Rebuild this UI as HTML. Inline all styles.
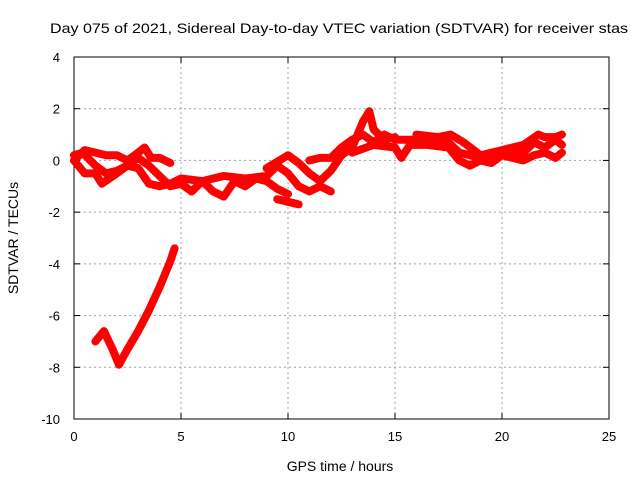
<!DOCTYPE html>
<html><head><meta charset="utf-8"><style>
body{margin:0;background:#fff}
svg{display:block;font-family:"Liberation Sans",sans-serif;font-size:13px}
</style></head><body>
<svg id="chart" width="640" height="480">
<text x="50" y="33" textLength="578" lengthAdjust="spacingAndGlyphs" style="font-size:14px">Day 075 of 2021, Sidereal Day-to-day VTEC variation (SDTVAR) for receiver stas</text>
<g id="grid"></g><g id="axes"></g><g id="series"></g>
<text x="340" y="471" text-anchor="middle" style="font-size:14px">GPS time / hours</text>
<text transform="translate(18,238) rotate(-90)" text-anchor="middle" style="font-size:14px">SDTVAR / TECUs</text>
</svg>
<script>
const xTicks=[0,5,10,15,20,25];
const yTicks=[4,2,0,-2,-4,-6,-8,-10];
const trackA=[[0,0],[0.5,0.4],[1,0.3],[1.5,0.2],[2,0.2],[2.5,0],[3,0.3],[3.3,0.5],[3.6,0.1],[4,0.1],[4.5,-0.1]];
const trackB=[[0,0],[0.5,-0.5],[1,-0.5],[1.3,-0.9],[2,-0.5],[2.5,-0.2],[3,0.1],[3.5,-0.2],[4,-0.6],[4.5,-1],[5,-0.9],[5.5,-1.2],[6,-0.8],[6.5,-1.2],[7,-1.4],[7.5,-0.8],[8,-1.0],[8.5,-0.7],[9,-0.8],[9.5,-1.1],[10,-1.3]];
const trackC=[[0,0.2],[0.4,0.3],[1,-0.2],[1.5,-0.5],[2,-0.4],[2.5,-0.2],[3,-0.3],[3.5,-0.9],[4,-1.0],[4.5,-0.9],[5,-0.7],[6,-0.8],[7,-0.6],[8,-0.7],[9,-0.6],[9.5,-0.2],[10,-0.5],[10.5,-1.0],[11,-1.2],[11.5,-1.0],[12,-1.2]];
const trackD=[[9.5,-1.5],[10,-1.6],[10.5,-1.7]];
const trackE=[[9,-0.3],[10,0.2],[10.5,-0.1],[11,-0.5],[11.5,-0.8],[12,-0.4],[12.5,0.2],[13,0.5],[13.5,1.5],[13.8,1.9],[14,1.2],[14.5,0.8],[15,0.9]];
const trackF=[[11,0],[11.5,0.1],[12,0.1],[12.5,0.5],[13,0.8],[13.5,1],[14,0.7],[14.5,1.0],[15,0.8],[16,0.8],[17,0.8],[17.5,0.7],[18,0.3],[18.5,0.2],[19,0.1],[20,0.2],[20.5,0.4],[21,0.3],[21.5,0.7],[22,0.5],[22.5,0.8],[22.8,0.6]];
const trackG=[[13,0.3],[14,0.6],[15,0.5],[15.3,0.1],[15.7,0.6],[16.5,0.6],[17.5,0.5],[18,0.0],[18.5,-0.2],[19,0],[19.5,-0.1],[20,0.2],[21,0.0],[21.5,0.2],[22,0.3],[22.5,0.1],[22.8,0.3]];
const trackH=[[16,1.0],[17,0.9],[17.6,1.0],[18.2,0.7],[19,0.2],[20,0.4],[21,0.6],[21.7,1.0],[22,0.9],[22.5,0.9],[22.8,1.0]];
const trackLow=[[1,-7],[1.4,-6.6],[1.8,-7.3],[2.1,-7.9],[2.5,-7.3],[3,-6.6],[3.5,-5.8],[4,-4.9],[4.5,-3.9],[4.7,-3.4]];
const tracks=[trackA,trackB,trackC,trackD,trackE,trackF,trackG,trackH,trackLow];
const X0=74,X1=609,Y0=57,Y1=419;
const sx=v=>X0+(v-0)/25*(X1-X0);
const sy=v=>Y0+(4-v)/14*(Y1-Y0);
const NS="http://www.w3.org/2000/svg";
function mk(t,a,p){const e=document.createElementNS(NS,t);for(const k in a)e.setAttribute(k,a[k]);p.appendChild(e);return e;}
const grid=document.getElementById('grid'),axes=document.getElementById('axes'),ser=document.getElementById('series');
xTicks.forEach(t=>{const x=sx(t);
 if(t>0&&t<25){const g=mk('line',{x1:x,x2:x,y1:Y0,y2:Y1,stroke:'#a0a0a0','stroke-dasharray':'2,3'},grid);
 }
 mk('line',{x1:x,x2:x,y1:Y1,y2:Y1-6,stroke:'#000'},axes);mk('line',{x1:x,x2:x,y1:Y0,y2:Y0+6,stroke:'#000'},axes);
 const l=mk('text',{x:x,y:Y1+22,'text-anchor':'middle'},axes);l.textContent=t;
 });
yTicks.forEach(t=>{const y=sy(t);
 if(t<4&&t>-10){const g=mk('line',{x1:X0,x2:X1,y1:y,y2:y,stroke:'#a0a0a0','stroke-dasharray':'2,3'},grid);
 }
 mk('line',{x1:X0,x2:X0+6,y1:y,y2:y,stroke:'#000'},axes);mk('line',{x1:X1,x2:X1-6,y1:y,y2:y,stroke:'#000'},axes);
 const l=mk('text',{x:X0-14,y:y+5,'text-anchor':'end'},axes);l.textContent=t;
 });
const fr=mk('rect',{x:X0,y:Y0,width:X1-X0,height:Y1-Y0,fill:'none',stroke:'#000'},axes);

tracks.forEach(tr=>{const p=mk('polyline',{points:tr.map(d=>sx(d[0])+','+sy(d[1])).join(' '),fill:'none',stroke:'#ff0000','stroke-width':8,'stroke-linejoin':'round','stroke-linecap':'round'},ser);
 });
</script>
</body></html>
